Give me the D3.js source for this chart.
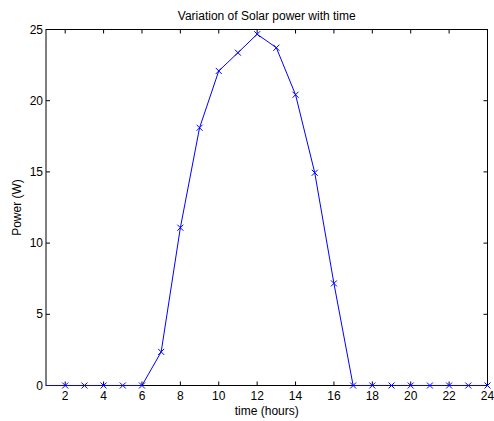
<!DOCTYPE html>
<html>
<head>
<meta charset="utf-8">
<script src="https://cdn.jsdelivr.net/npm/d3@7"></script>
<style>
  body { margin: 0; background: #fff; }
  text { font-family: "Liberation Sans", Arial, sans-serif; fill: #000; }
</style>
</head>
<body>
<div id="chart"></div>
<script>
const hours = [1, 2, 3, 4, 5, 6, 7, 8, 9, 10, 11, 12, 13, 14, 15, 16, 17, 18, 19, 20, 21, 22, 23, 24]
const power = [0, 0, 0, 0, 0, 0, 2.36, 11.08, 18.1, 22.09, 23.37, 24.67, 23.72, 20.42, 14.94, 7.17, 0, 0, 0, 0, 0, 0, 0, 0]
const xTicks = [2, 4, 6, 8, 10, 12, 14, 16, 18, 20, 22, 24]
const yTicks = [0, 5, 10, 15, 20, 25]

const width = 494
const height = 421
const margin = { top: 29.5, right: 6.5, bottom: 35.5, left: 46 }

const svg = d3.select('#chart').append('svg')
  .attr('width', width)
  .attr('height', height)

const x = d3.scaleLinear().domain([1, 24]).range([margin.left, width - margin.right])
const y = d3.scaleLinear().domain([0, 25]).range([height - margin.bottom, margin.top])

const tickLen = 4
const fs = '12px'

// axes box
const box = svg.append('g')
box.append('rect')
  .attr('x', x(1)).attr('y', y(25))
  .attr('width', x(24) - x(1)).attr('height', y(0) - y(25))
  .attr('fill', 'none').attr('stroke', '#000').attr('stroke-width', 1)

// x ticks, bottom and top, pointing inward
const xt = box.selectAll('g.xt').data(xTicks).enter().append('g').classed('xt', true)
xt.append('line')
  .attr('x1', d => x(d)).attr('x2', d => x(d))
  .attr('y1', y(0)).attr('y2', y(0) - tickLen)
  .attr('stroke', '#000')
xt.append('line')
  .attr('x1', d => x(d)).attr('x2', d => x(d))
  .attr('y1', y(25)).attr('y2', y(25) + tickLen)
  .attr('stroke', '#000')
xt.append('text')
  .attr('x', d => x(d)).attr('y', y(0) + 14.5)
  .attr('text-anchor', 'middle')
  .style('font-size', fs)
  .text(d => d)

// y ticks, left and right
const yt = box.selectAll('g.yt').data(yTicks).enter().append('g').classed('yt', true)
yt.append('line')
  .attr('x1', x(1)).attr('x2', x(1) + tickLen)
  .attr('y1', d => y(d)).attr('y2', d => y(d))
  .attr('stroke', '#000')
yt.append('line')
  .attr('x1', x(24)).attr('x2', x(24) - tickLen)
  .attr('y1', d => y(d)).attr('y2', d => y(d))
  .attr('stroke', '#000')
yt.append('text')
  .attr('x', x(1) - 3).attr('y', d => y(d) + 4)
  .attr('text-anchor', 'end')
  .style('font-size', fs)
  .text(d => d)

// line
const pts = hours.map((h, i) => [h, power[i]])
svg.append('path')
  .datum(pts)
  .attr('d', d3.line().x(d => x(d[0])).y(d => y(d[1])))
  .attr('fill', 'none')
  .attr('stroke', '#0000ff')
  .attr('stroke-width', 1)

// x markers (none shows at the left edge in the original)
const m = 3
svg.selectAll('path.mk').data(pts.filter(d => d[0] > 1)).enter().append('path')
  .classed('mk', true)
  .attr('d', d => {
    const cx = x(d[0]), cy = y(d[1])
    return `M${cx - m},${cy - m}L${cx + m},${cy + m}M${cx - m},${cy + m}L${cx + m},${cy - m}`
  })
  .attr('stroke', '#0000ff')
  .attr('stroke-width', 1)

// labels
svg.append('text')
  .attr('x', (x(1) + x(24)) / 2).attr('y', 20)
  .attr('text-anchor', 'middle')
  .style('font-size', fs)
  .text('Variation of Solar power with time')

svg.append('text')
  .attr('x', (x(1) + x(24)) / 2).attr('y', 415)
  .attr('text-anchor', 'middle')
  .style('font-size', fs)
  .text('time (hours)')

svg.append('text')
  .attr('transform', `translate(21, ${(y(0) + y(25)) / 2}) rotate(-90)`)
  .attr('text-anchor', 'middle')
  .style('font-size', fs)
  .text('Power (W)')
</script>
</body>
</html>
